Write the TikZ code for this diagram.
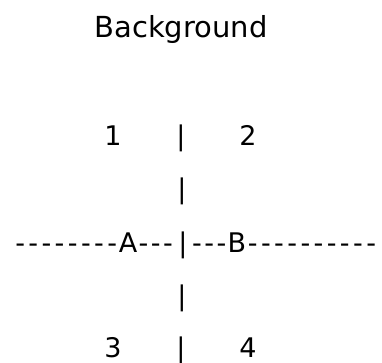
\documentclass[tikz,border=0pt]{standalone}
\usepackage{fontspec}
\setmainfont{DejaVu Sans}
\newcommand\hy{\kern1.7pt-\kern1.7pt}
\newcommand\hym{\kern1.3pt-\kern1.3pt}
\begin{document}
\begin{tikzpicture}[x=1pt,y=1pt,
  txt/.style={inner sep=0pt,outer sep=0pt,font=\fontsize{27}{27}\selectfont,text=black},
  ttl/.style={inner sep=0pt,outer sep=0pt,font=\fontsize{29}{29}\selectfont,text=black}]
\useasboundingbox (0,0) rectangle (382,362);
\node[ttl,anchor=base] (bg) at (181,324) {Background};
% row 1
\node[txt,anchor=base] (n1) at (113,217) {1};
\node[txt,anchor=base] (b1) at (181,217) {|};
\node[txt,anchor=base] (n2) at (248,217) {2};
% row 2
\node[txt,anchor=base] (b2) at (182,164) {|};
% row 3
\node[txt,anchor=base] (A) at (128,110) {A};
\node[txt,anchor=base] (bc) at (183,110) {|};
\node[txt,anchor=base] (B) at (237,110) {B};
\node[txt,anchor=base east] (dl) at (A.base west) {\hy\hy\hy\hy\hy\hy\hy\hy};
\node[txt,anchor=base west] (dm1) at (A.base east) {\hym\hym\hym};
\node[txt,anchor=base east] (dm2) at (B.base west) {\hym\hym\hym};
\node[txt,anchor=base west] (dr) at (B.base east) {\hy\hy\hy\hy\hy\hy\hy\hy\hy\hy};
% row 4
\node[txt,anchor=base] (b3) at (182,57) {|};
% row 5
\node[txt,anchor=base] (n3) at (113,5) {3};
\node[txt,anchor=base] (b4) at (181,5) {|};
\node[txt,anchor=base] (n4) at (248,5) {4};
\end{tikzpicture}
\end{document}
